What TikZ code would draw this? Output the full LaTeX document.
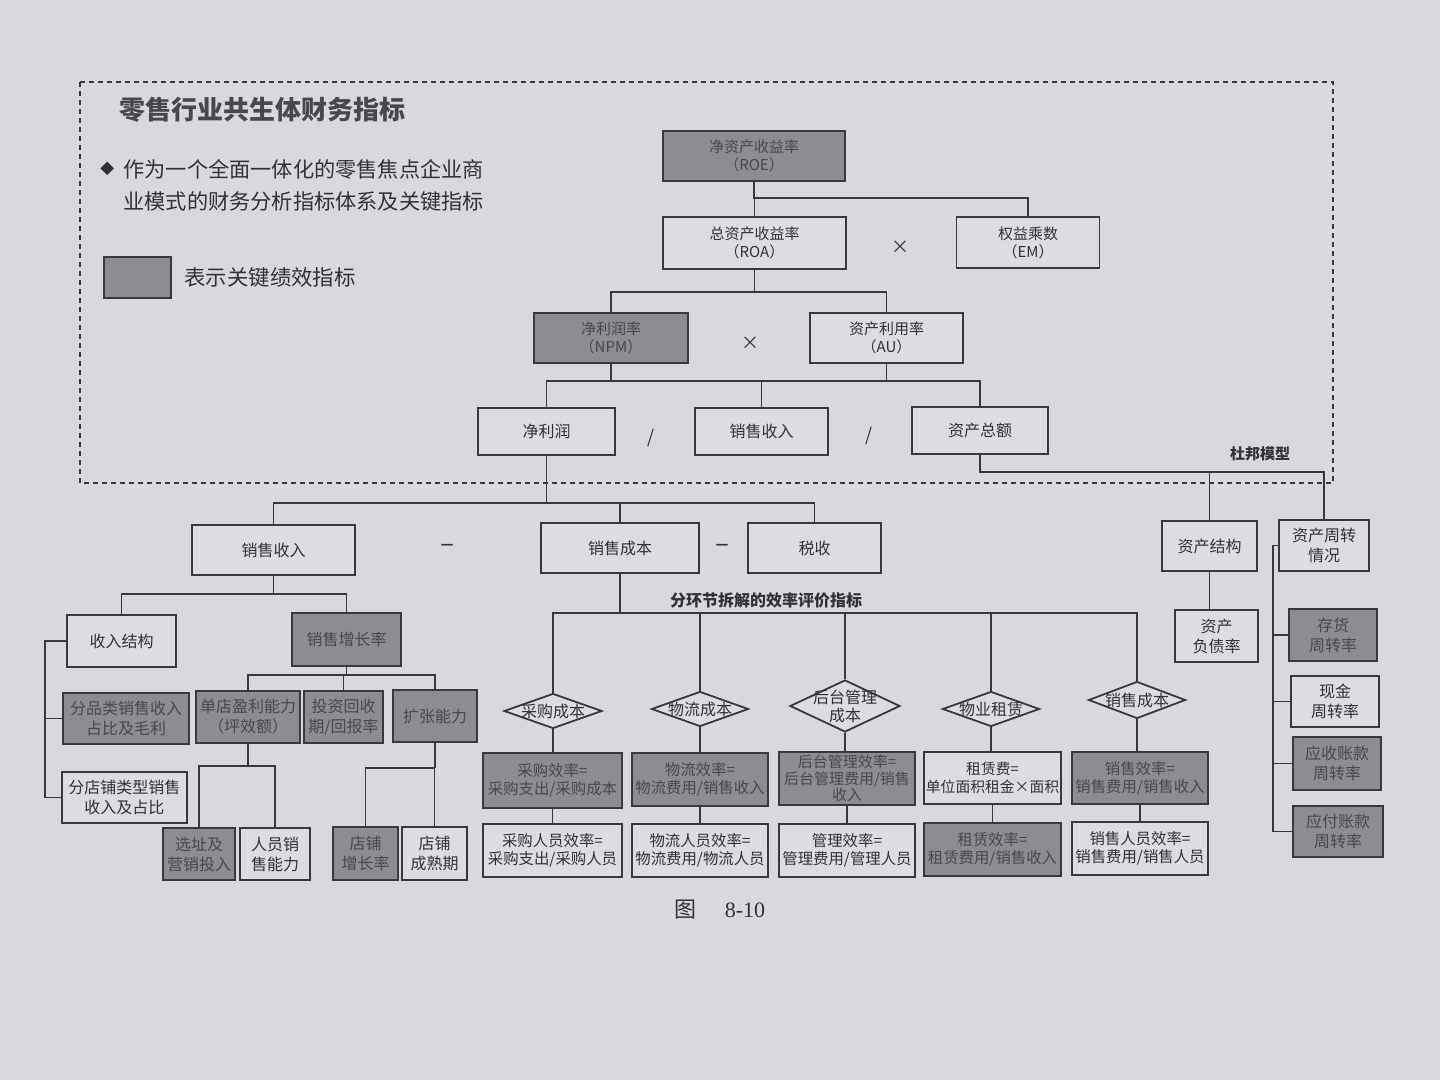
\documentclass[tikz,border=0pt]{standalone}
\usepackage{fontspec}
\setmainfont{Noto Sans CJK SC}
\newfontfamily\serifnum{Liberation Serif}
\newfontfamily\dejavu{DejaVu Sans}
\usetikzlibrary{shapes.geometric}
\definecolor{pagebg}{HTML}{DAD8DF}
\definecolor{boxw}{HTML}{DEDCE2}
\definecolor{boxg}{HTML}{8E8C93}
\definecolor{linec}{HTML}{3A383D}
\definecolor{wtext}{HTML}{333136}
\definecolor{gtext}{HTML}{4A484E}
\definecolor{titlec}{HTML}{49474C}
\begin{document}
\begin{tikzpicture}[x=0.5pt,y=-0.5pt,
  base/.style={draw=linec, line width=0.9pt, align=center, inner sep=1pt, font=\fontsize{8}{10}\selectfont},
  wbox/.style={base, fill=boxw, text=wtext},
  gbox/.style={base, fill=boxg, text=gtext},
  sz/.style 2 args={minimum width=#1*0.5pt, minimum height=#2*0.5pt},
  small/.style={font=\fontsize{7.5}{9}\selectfont},
  eq/.style={font=\fontsize{7.7}{9}\selectfont},
  dia/.style={diamond, draw=linec, line width=0.9pt, fill=boxw, inner sep=0pt},
  dlbl/.style={text=wtext, font=\fontsize{8}{9}\selectfont, align=center, inner sep=0pt},
  conn/.style={draw=linec, line width=0.8pt},
  op/.style={text=wtext, font=\fontsize{9}{9}\selectfont, inner sep=0pt},
  plain/.style={text=wtext, inner sep=0pt}
]
\useasboundingbox (0,0) rectangle (1440,1080);
\fill[pagebg] (0,0) rectangle (1440,1080);

% dashed frame
\draw[linec, line width=0.7pt, dash pattern=on 2.5pt off 2pt] (80,82) rectangle (1333,483);

% header texts
\node[anchor=west, text=titlec, inner sep=0pt, font=\bfseries\fontsize{13}{15}\selectfont] (title) at (119,110) {零售行业共生体财务指标};
\node[anchor=west, text=wtext, inner sep=0pt, font=\dejavu\fontsize{9}{10}\selectfont] (bullet) at (100,169) {◆};
\node[anchor=west, text=wtext, inner sep=0pt, align=left, font=\fontsize{10.6}{16}\selectfont] (intro) at (123,185) {作为一个全面一体化的零售焦点企业商\\业模式的财务分析指标体系及关键指标};
\node[gbox, sz={67}{41}] (legbox) at (137.5,277.5) {};
\node[anchor=west, text=wtext, inner sep=0pt, font=\fontsize{10.7}{12}\selectfont] (legtext) at (184,277) {表示关键绩效指标};

% top tree
\node[gbox, sz={182}{50}, small] (roe) at (754,156) {净资产收益率\\（ROE）};
\node[wbox, sz={183}{52}, small] (roa) at (754.5,243) {总资产收益率\\（ROA）};
\node[wbox, sz={143}{51}, small] (em) at (1028,242.5) {权益乘数\\（EM）};
\node[op] (x1) at (900,247) {×};
\node[gbox, sz={154}{50}, small] (npm) at (611,338) {净利润率\\（NPM）};
\node[op] (x2) at (750,343) {×};
\node[wbox, sz={153}{50}, small] (au) at (886.5,338) {资产利用率\\（AU）};
\node[wbox, sz={137}{47}] (jlr) at (546.5,431.5) {净利润};
\node[op] (s1) at (651,438) {/};
\node[wbox, sz={133}{47}] (xssr) at (761.5,431.5) {销售收入};
\node[op] (s2) at (869,436) {/};
\node[wbox, sz={136}{47}] (zcze) at (980,430.5) {资产总额};
\node[plain, font=\bfseries\fontsize{7.5}{9}\selectfont] (dbmx) at (1260,454) {杜邦模型};

\draw[conn] (roe.south) -- (roe.south |- 0,198) -| (em.north);
\draw[conn] (roa.north) -- (roa.north |- 0,198);
\draw[conn] (roa.south) -- (roa.south |- 0,292);
\draw[conn] (npm.north) |- (au.north |- 0,292) -- (au.north);
\draw[conn] (npm.south) -- (npm.south |- 0,381);
\draw[conn] (au.south) -- (au.south |- 0,381);
\draw[conn] (jlr.north) |- (zcze.north |- 0,381) -- (zcze.north);
\draw[conn] (xssr.north) -- (xssr.north |- 0,381);

% second level
\node[wbox, sz={163}{50}] (xssr2) at (273.5,550) {销售收入};
\node[op, font=\fontsize{13}{13}\selectfont] (m1) at (447,548) {–};
\node[wbox, sz={158}{50}] (xscb) at (620,548) {销售成本};
\node[op, font=\fontsize{13}{13}\selectfont] (m2) at (722,548) {–};
\node[wbox, sz={133}{50}] (ss) at (814.5,548) {税收};
\node[wbox, sz={95}{50}] (zcjg) at (1209.5,546) {资产结构};
\node[wbox, sz={90}{51}] (zzzz) at (1324,545.5) {资产周转\\情况};
\node[wbox, sz={83}{52}] (zcfz) at (1216.5,636) {资产\\负债率};

\draw[conn] (zcze.south) |- (zzzz.north |- 0,472) -- (zzzz.north);
\draw[conn] (zcjg.north) -- (zcjg.north |- 0,472);
\draw[conn] (jlr.south) -- (jlr.south |- 0,503);
\draw[conn] (xssr2.north) |- (ss.north |- 0,503) -- (ss.north);
\draw[conn] (xscb.north) -- (xscb.north |- 0,503);
\draw[conn] (zcjg.south) -- (zcjg.south |- zcfz.north);

% right column
\coordinate (rsp) at (1273,833);
\node[gbox, sz={88}{52}] (ch) at (1333,635) {存货\\周转率};
\node[wbox, sz={88}{51}] (xj) at (1335,701.5) {现金\\周转率};
\node[gbox, sz={88}{53}] (ys) at (1337,763.5) {应收账款\\周转率};
\node[gbox, sz={90}{51}] (yf) at (1338,831.5) {应付账款\\周转率};
\draw[conn] (zzzz.west) -| (yf.west -| rsp) -- (yf.west);
\draw[conn] (ch.west) -- (ch.west -| rsp);
\draw[conn] (xj.west) -- (xj.west -| rsp);
\draw[conn] (ys.west) -- (ys.west -| rsp);

% left subtree
\coordinate (lsp) at (45,797);
\node[wbox, sz={109}{52}] (srjg) at (121.5,641) {收入结构};
\node[gbox, sz={109}{53}] (xszzl) at (346.5,639.5) {销售增长率};
\node[gbox, sz={126}{51}] (fpl) at (126,718.5) {分品类销售收入\\占比及毛利};
\node[wbox, sz={125}{51}] (fdp) at (124.5,797.5) {分店铺类型销售\\收入及占比};
\node[gbox, sz={104}{52}] (ddyl) at (248,717) {单店盈利能力\\（坪效额）};
\node[gbox, sz={79}{52}] (tzhs) at (343.5,717) {投资回收\\期/回报率};
\node[gbox, sz={84}{52}] (kznl) at (435,716) {扩张能力};
\node[gbox, sz={72}{52}] (xzyx) at (199,854) {选址及\\营销投入};
\node[wbox, sz={70}{52}] (rxxs) at (275,854) {人员销\\售能力};
\node[gbox, sz={65}{53}] (dpzz) at (365.5,853.5) {店铺\\增长率};
\node[wbox, sz={65}{53}] (dpcs) at (434.5,853.5) {店铺\\成熟期};

\draw[conn] (xssr2.south) -- (xssr2.south |- 0,594);
\draw[conn] (srjg.north) |- (xszzl.north |- 0,594) -- (xszzl.north);
\draw[conn] (srjg.west) -| (fdp.west -| lsp) -- (fdp.west);
\draw[conn] (fpl.west) -- (fpl.west -| lsp);
\draw[conn] (xszzl.south) -- (xszzl.south |- 0,675);
\draw[conn] (ddyl.north) |- (kznl.north |- 0,675) -- (kznl.north);
\draw[conn] (tzhs.north) -- (tzhs.north |- 0,675);
\draw[conn] (ddyl.south) -- (ddyl.south |- 0,766);
\draw[conn] (xzyx.north) |- (rxxs.north |- 0,766) -- (rxxs.north);
\draw[conn] (kznl.south) -- (kznl.south |- 0,768);
\draw[conn] (dpzz.north) |- (dpcs.north |- 0,768) -- (dpcs.north);

% cost efficiency subtree
\node[plain, font=\bfseries\fontsize{8}{9}\selectfont] (fhj) at (766,600) {分环节拆解的效率评价指标};
\node[dia, minimum width=98*0.5pt, minimum height=35*0.5pt, label={[dlbl, name=d1t]center:采购成本}] (d1) at (553,711) {};
\node[dia, minimum width=97*0.5pt, minimum height=35*0.5pt, label={[dlbl, name=d2t]center:物流成本}] (d2) at (700,709) {};
\node[dia, minimum width=110*0.5pt, minimum height=52*0.5pt, label={[dlbl, name=d3t]center:后台管理\\成本}] (d3) at (845,706) {};
\node[dia, minimum width=97*0.5pt, minimum height=35*0.5pt, label={[dlbl, name=d4t]center:物业租赁}] (d4) at (991,709) {};
\node[dia, minimum width=97*0.5pt, minimum height=37*0.5pt, label={[dlbl, name=d5t]center:销售成本}] (d5) at (1137,700) {};

\draw[conn] (xscb.south) -- (xscb.south |- 0,613);
\draw[conn] (d1.north) |- (d5.north |- 0,613) -- (d5.north);
\draw[conn] (d2.north) -- (d2.north |- 0,613);
\draw[conn] (d3.north) -- (d3.north |- 0,613);
\draw[conn] (d4.north) -- (d4.north |- 0,613);

\node[gbox, sz={139}{55}, eq] (e1) at (552.5,780.5) {采购效率=\\采购支出/采购成本};
\node[gbox, sz={136}{53}, eq] (e2) at (700,779.5) {物流效率=\\物流费用/销售收入};
\node[gbox, sz={136}{53}, font=\fontsize{7.5}{8.3}\selectfont] (e3) at (847,778.5) {后台管理效率=\\后台管理费用/销售\\收入};
\node[wbox, sz={137}{52}, font=\fontsize{7.4}{9}\selectfont] (e4) at (992.5,778) {租赁费=\\单位面积租金×面积};
\node[gbox, sz={136}{52}, eq] (e5) at (1140,778) {销售效率=\\销售费用/销售收入};
\node[wbox, sz={139}{53}, eq] (f1) at (552.5,850.5) {采购人员效率=\\采购支出/采购人员};
\node[wbox, sz={136}{53}, eq] (f2) at (700,850.5) {物流人员效率=\\物流费用/物流人员};
\node[wbox, sz={136}{53}, eq] (f3) at (847,850.5) {管理效率=\\管理费用/管理人员};
\node[gbox, sz={137}{53}, eq] (f4) at (992.5,849.5) {租赁效率=\\租赁费用/销售收入};
\node[wbox, sz={136}{53}, eq] (f5) at (1140,848.5) {销售人员效率=\\销售费用/销售人员};

\foreach \i in {1,...,5}{
  \draw[conn] (d\i.south) -- (d\i.south |- e\i.north);
  \draw[conn] (e\i.south) -- (e\i.south |- f\i.north);
}

% caption
\node[plain, font=\fontsize{11}{12}\selectfont] (cap) at (720,910) {图\hspace{14pt}{\serifnum 8-10}};
\end{tikzpicture}
\end{document}
